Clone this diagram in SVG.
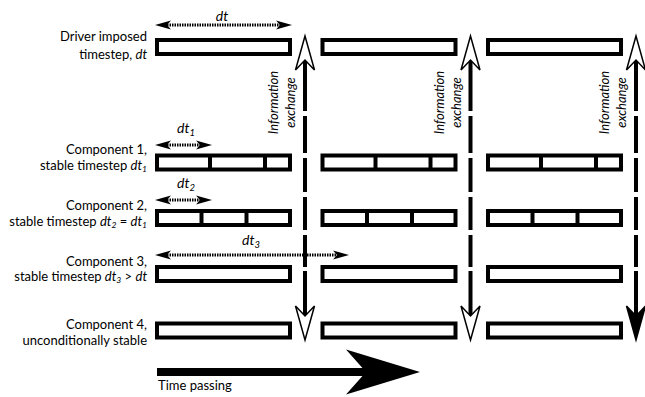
<svg xmlns="http://www.w3.org/2000/svg" width="645" height="397" viewBox="0 0 645 397">
<style>
.lbl{font-family:Lato,"Liberation Sans",sans-serif;font-size:13px;fill:#000;text-anchor:end}
.tp{font-family:Lato,"Liberation Sans",sans-serif;font-size:13px;fill:#000}
.dtl{font-family:Lato,"Liberation Sans",sans-serif;font-style:italic;font-size:14px;fill:#000;text-anchor:middle}
.bar{fill:#fff;stroke:#000;stroke-width:4}
.div{stroke:#000;stroke-width:4}
.dot{stroke:#000;stroke-width:3;stroke-dasharray:1.5 1;fill:none;marker-start:url(#dh);marker-end:url(#dh)}
.ex{stroke:#000;stroke-width:4;fill:none;stroke-dasharray:51 5 37 5 34 5 33 5 32 4 200}
.rot{font-family:Lato,"Liberation Sans",sans-serif;font-style:italic;font-size:13px;fill:#000;text-anchor:middle}
</style>
<defs>
<marker id="dh" markerUnits="userSpaceOnUse" orient="auto-start-reverse" overflow="visible" markerWidth="1" markerHeight="1">
<path d="M12,0 L-4,-4.5 L0,0 L-4,4.5 Z" fill="#000"/>
</marker>
<marker id="oh" markerUnits="userSpaceOnUse" orient="auto-start-reverse" overflow="visible" markerWidth="1" markerHeight="1">
<path d="M24,0 L-10,-9.5 L0,0 L-10,9.5 Z" fill="#fff" stroke="#000" stroke-width="1.5"/>
</marker>
<marker id="fh" markerUnits="userSpaceOnUse" orient="auto" overflow="visible" markerWidth="1" markerHeight="1">
<path d="M24,0 L-10,-9.5 L0,0 L-10,9.5 Z" fill="#000" stroke="#000" stroke-width="1.5"/>
</marker>
</defs>
<rect width="645" height="397" fill="#fff"/>

<g id="labels">
<text class="lbl" x="147" y="41">Driver imposed</text>
<text class="lbl" x="147" y="59">timestep, <tspan font-style="italic">dt</tspan></text>
<text class="lbl" x="147" y="154">Component 1,</text>
<text class="lbl" x="147" y="169.5">stable timestep <tspan font-style="italic">dt</tspan><tspan font-style="italic" font-size="8.5" dy="2">1</tspan></text>
<text class="lbl" x="147" y="210">Component 2,</text>
<text class="lbl" x="147" y="225.5">stable timestep <tspan font-style="italic">dt</tspan><tspan font-style="italic" font-size="8.5" dy="2">2</tspan><tspan dy="-2"> = </tspan><tspan font-style="italic">dt</tspan><tspan font-style="italic" font-size="8.5" dy="2">1</tspan></text>
<text class="lbl" x="147" y="265.5">Component 3,</text>
<text class="lbl" x="147" y="281">stable timestep <tspan font-style="italic">dt</tspan><tspan font-style="italic" font-size="8.5" dy="2">3</tspan><tspan dy="-2"> &gt; </tspan><tspan font-style="italic">dt</tspan></text>
<text class="lbl" x="147" y="329">Component 4,</text>
<text class="lbl" x="147" y="345">unconditionally stable</text>
</g>

<g id="driver">
<rect class="bar" x="157" y="40" width="133" height="14"/>
<rect class="bar" x="322.5" y="40" width="133" height="14"/>
<rect class="bar" x="488" y="40" width="133" height="14"/>
</g>

<g id="component1">
<rect class="bar" x="157" y="155.5" width="133" height="14"/>
<rect class="bar" x="322.5" y="155.5" width="133" height="14"/>
<rect class="bar" x="488" y="155.5" width="133" height="14"/>
<line class="div" x1="210" y1="155" x2="210" y2="170"/>
<line class="div" x1="265" y1="155" x2="265" y2="170"/>
<line class="div" x1="375.5" y1="155" x2="375.5" y2="170"/>
<line class="div" x1="430.5" y1="155" x2="430.5" y2="170"/>
<line class="div" x1="541" y1="155" x2="541" y2="170"/>
<line class="div" x1="596" y1="155" x2="596" y2="170"/>
</g>

<g id="component2">
<rect class="bar" x="157" y="211" width="133" height="14"/>
<rect class="bar" x="322.5" y="211" width="133" height="14"/>
<rect class="bar" x="488" y="211" width="133" height="14"/>
<line class="div" x1="201.5" y1="211" x2="201.5" y2="225"/>
<line class="div" x1="246.5" y1="211" x2="246.5" y2="225"/>
<line class="div" x1="367" y1="211" x2="367" y2="225"/>
<line class="div" x1="412" y1="211" x2="412" y2="225"/>
<line class="div" x1="532.5" y1="211" x2="532.5" y2="225"/>
<line class="div" x1="577.5" y1="211" x2="577.5" y2="225"/>
</g>

<g id="component3">
<rect class="bar" x="157" y="267" width="133" height="14"/>
<rect class="bar" x="322.5" y="267" width="133" height="14"/>
<rect class="bar" x="488" y="267" width="133" height="14"/>
</g>

<g id="component4">
<rect class="bar" x="157" y="323.5" width="133" height="14"/>
<rect class="bar" x="322.5" y="323.5" width="133" height="14"/>
<rect class="bar" x="488" y="323.5" width="133" height="14"/>
</g>

<g id="timesteps">
<text class="dtl" x="222" y="21">dt</text>
<text class="dtl" x="186" y="133">dt<tspan font-size="9.5" dy="3">1</tspan></text>
<text class="dtl" x="186" y="188">dt<tspan font-size="9.5" dy="3">2</tspan></text>
<text class="dtl" x="251" y="245">dt<tspan font-size="9.5" dy="3">3</tspan></text>
</g>

<g id="info-labels">
<text class="rot" transform="translate(278,102.5) rotate(-90)">Information</text>
<text class="rot" transform="translate(295,102.5) rotate(-90)">exchange</text>
<text class="rot" transform="translate(444,102.5) rotate(-90)">Information</text>
<text class="rot" transform="translate(461,102.5) rotate(-90)">exchange</text>
<text class="rot" transform="translate(609,102.5) rotate(-90)">Information</text>
<text class="rot" transform="translate(626,102.5) rotate(-90)">exchange</text>
</g>

<g id="connectors">
<line class="dot" x1="167" y1="25" x2="280" y2="25"/>
<line class="dot" x1="167" y1="145" x2="200" y2="145"/>
<line class="dot" x1="167" y1="200" x2="200" y2="200"/>
<line class="dot" x1="167" y1="255" x2="337" y2="255"/>
<line class="ex" x1="305" y1="60" x2="305" y2="316" marker-start="url(#oh)" marker-end="url(#oh)"/>
<line class="ex" x1="470.5" y1="60" x2="470.5" y2="316" marker-start="url(#oh)" marker-end="url(#oh)"/>
<line class="ex" x1="636" y1="60" x2="636" y2="316" marker-start="url(#oh)" marker-end="url(#fh)"/>
</g>

<g id="time-arrow">
<rect x="157" y="368" width="212" height="8" fill="#000"/>
<path d="M420,372 L346,349.5 L366,372 L346,394.5 Z" fill="#000"/>
<text class="tp" x="158" y="390">Time passing</text>
</g>
</svg>
